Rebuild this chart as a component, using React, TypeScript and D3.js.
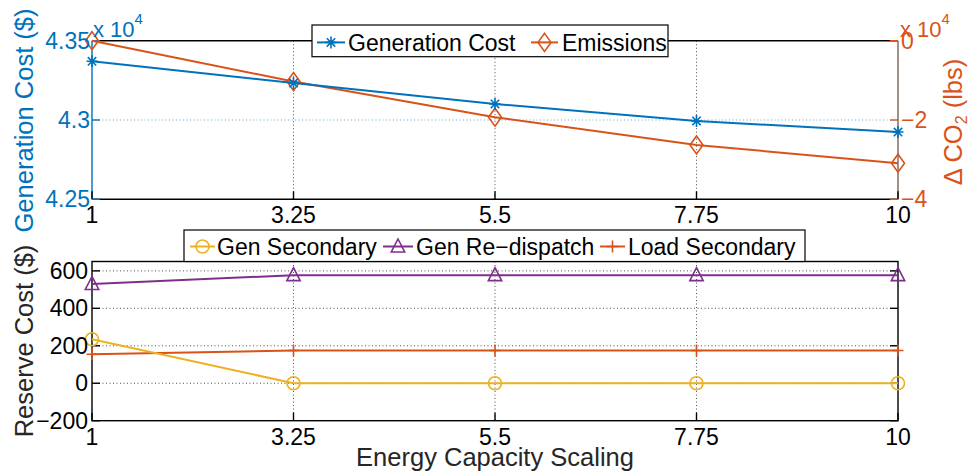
import React from "react";
import * as d3 from "d3";

// Energy capacity scaling factors (shared x values)
const scaling = [1, 3.25, 5.5, 7.75, 10];
const xTickValues = [1, 3.25, 5.5, 7.75, 10];
const xTickLabels = ["1", "3.25", "5.5", "7.75", "10"];

// Upper panel: generation cost (x 10^4 $) and change in CO2 (x 10^4 lbs)
const generationCost = [4.337, 4.3233, 4.3101, 4.2994, 4.2924];
const emissions = [0, -1.03, -1.93, -2.63, -3.09];
const costTicks = [4.25, 4.3, 4.35];
const costTickLabels = ["4.25", "4.3", "4.35"];
const co2Ticks = [-4, -2, 0];
const co2TickLabels = ["\u22124", "\u22122", "0"];

// Lower panel: reserve costs ($)
const genSecondary = [235, 0, 0, 0, 0];
const genRedispatch = [530, 577, 577, 577, 577];
const loadSecondary = [155, 175, 175, 175, 175];
const reserveTicks = [-200, 0, 200, 400, 600];
const reserveTickLabels = ["\u2212200", "0", "200", "400", "600"];

const BLUE = "#0072BD";
const ORANGE = "#D95319";
const YELLOW = "#EDB120";
const PURPLE = "#7E2F8E";
const INK = "#262626";
const FONT = "'Liberation Sans', Arial, Helvetica, sans-serif";

const W = 978;
const H = 476;
const left = 92;
const right = 898;
const topA = 40.7;
const botA = 199.3;
const topB = 261.5;
const botB = 420.7;

const x = d3.scaleLinear().domain([1, 10]).range([left, right]);
const yCost = d3.scaleLinear().domain([4.25, 4.35]).range([botA, topA]);
const yCo2 = d3.scaleLinear().domain([-4, 0]).range([botA, topA]);
const yRes = d3.scaleLinear().domain([-200, 650]).range([botB, topB]);

type MarkerKind = "star" | "diamond" | "circle" | "triangle" | "plus";

function Marker({ kind, cx, cy, color }: { kind: MarkerKind; cx: number; cy: number; color: string }) {
  const common = { fill: "none", stroke: color, strokeWidth: 1.6 };
  if (kind === "circle") return <circle cx={cx} cy={cy} r={6.5} {...common} />;
  if (kind === "diamond")
    return <path d={`M${cx},${cy - 9}L${cx + 6.5},${cy}L${cx},${cy + 9}L${cx - 6.5},${cy}Z`} {...common} />;
  if (kind === "triangle")
    return <path d={`M${cx},${cy - 7.5}L${cx + 6.7},${cy + 5.5}L${cx - 6.7},${cy + 5.5}Z`} {...common} />;
  if (kind === "plus")
    return <path d={`M${cx - 5.5},${cy}H${cx + 5.5}M${cx},${cy - 6}V${cy + 6}`} {...common} />;
  const s = 5.5;
  const d = 4.2;
  return (
    <path
      d={`M${cx - s},${cy}H${cx + s}M${cx},${cy - s - 0.5}V${cy + s + 0.5}M${cx - d},${cy - d}L${cx + d},${cy + d}M${cx - d},${cy + d}L${cx + d},${cy - d}`}
      {...common}
    />
  );
}

function Series({
  values,
  y,
  color,
  kind,
}: {
  values: number[];
  y: d3.ScaleLinear<number, number>;
  color: string;
  kind: MarkerKind;
}) {
  const pts = values.map((v, i) => [x(scaling[i]), y(v)] as [number, number]);
  const line = d3.line()(pts) || "";
  return (
    <g>
      <path d={line} fill="none" stroke={color} strokeWidth={2} />
      {pts.map((p, i) => (
        <Marker key={i} kind={kind} cx={p[0]} cy={p[1]} color={color} />
      ))}
    </g>
  );
}

function LegendItem({
  x0,
  x1,
  tx,
  y,
  label,
  color,
  kind,
}: {
  x0: number;
  x1: number;
  tx: number;
  y: number;
  label: string;
  color: string;
  kind: MarkerKind;
}) {
  return (
    <g>
      <line x1={x0} x2={x1} y1={y} y2={y} stroke={color} strokeWidth={2} />
      <Marker kind={kind} cx={(x0 + x1) / 2} cy={y} color={color} />
      <text x={tx} y={y + 8.3} fontSize={23} fill="#000">
        {label}
      </text>
    </g>
  );
}

export default function App() {
  const innerX = xTickValues.filter((v) => v !== 1 && v !== 10);
  return (
    <svg
      width={W}
      height={H}
      viewBox={`0 0 ${W} ${H}`}
      style={{ position: "absolute", left: 0, top: 0, background: "#fff" }}
      fontFamily={FONT}
    >
      <rect width={W} height={H} fill="#fff" />

      {/* ---------- upper panel ---------- */}
      {innerX.map((v) => (
        <line key={v} x1={x(v)} x2={x(v)} y1={topA} y2={botA} stroke={INK} strokeWidth={1} strokeDasharray="1,2.5" opacity={0.8} />
      ))}
      {costTicks
        .filter((v) => v !== 4.25 && v !== 4.35)
        .map((v) => (
          <line key={v} x1={left} x2={right} y1={yCost(v)} y2={yCost(v)} stroke={BLUE} strokeWidth={1} strokeDasharray="1,2.5" opacity={0.6} />
        ))}
      <line x1={left} x2={right} y1={topA} y2={topA} stroke="#000" strokeWidth={1.4} />
      <line x1={left} x2={right} y1={botA} y2={botA} stroke="#000" strokeWidth={1.4} />
      <line x1={left} x2={left} y1={topA} y2={botA} stroke={BLUE} strokeWidth={1.4} />
      <line x1={right} x2={right} y1={topA} y2={botA} stroke="#7a6156" strokeWidth={1.4} />
      {xTickValues.map((v) => (
        <line key={v} x1={x(v)} x2={x(v)} y1={botA} y2={botA - 8} stroke="#000" strokeWidth={1.4} />
      ))}
      {costTicks.map((v) => (
        <line key={v} x1={left} x2={left + 8} y1={yCost(v)} y2={yCost(v)} stroke={BLUE} strokeWidth={1.4} />
      ))}
      {co2Ticks.map((v) => (
        <line key={v} x1={right} x2={right - 8} y1={yCo2(v)} y2={yCo2(v)} stroke={ORANGE} strokeWidth={1.4} />
      ))}

      <Series values={emissions} y={yCo2} color={ORANGE} kind="diamond" />
      <Series values={generationCost} y={yCost} color={BLUE} kind="star" />

      {costTicks.map((v, i) => (
        <text key={v} x={left - 2} y={yCost(v)} dy="0.35em" textAnchor="end" fontSize={23} fill={BLUE}>
          {costTickLabels[i]}
        </text>
      ))}
      {co2Ticks.map((v, i) => (
        <text key={v} x={right + 3} y={yCo2(v)} dy="0.35em" textAnchor="start" fontSize={23} fill={ORANGE}>
          {co2TickLabels[i]}
        </text>
      ))}
      {xTickValues.map((v, i) => (
        <text key={v} x={x(v)} y={botA + 24} textAnchor="middle" fontSize={23} fill="#000">
          {xTickLabels[i]}
        </text>
      ))}

      {/* exponent multipliers */}
      <text x={left + 1} y={37} fontSize={22} fill={BLUE}>
        x 10<tspan dy={-13} fontSize={15}>4</tspan>
      </text>
      <text x={right + 2} y={37} fontSize={22} fill={ORANGE}>
        x 10<tspan dy={-13} fontSize={15}>4</tspan>
      </text>

      {/* axis titles */}
      <text transform={`translate(33,120.5) rotate(-90)`} textAnchor="middle" fontSize={25.5} fill={BLUE}>
        Generation Cost ($)
      </text>
      <text transform={`translate(962,122) rotate(-90)`} textAnchor="middle" fontSize={25.5} fill={ORANGE}>
        {"\u0394 CO"}
        <tspan dy={5} fontSize={16}>2</tspan>
        <tspan dy={-5}>{" (lbs)"}</tspan>
      </text>

      {/* upper legend */}
      <rect x={312} y={25} width={356} height={31.7} fill="#fff" stroke="#000" strokeWidth={1.2} />
      <LegendItem x0={317} x1={345} tx={348} y={42.4} label="Generation Cost" color={BLUE} kind="star" />
      <LegendItem x0={531} x1={558} tx={562} y={42.4} label="Emissions" color={ORANGE} kind="diamond" />

      {/* ---------- lower panel ---------- */}
      {innerX.map((v) => (
        <line key={v} x1={x(v)} x2={x(v)} y1={topB} y2={botB} stroke={INK} strokeWidth={1} strokeDasharray="1,2.5" opacity={0.8} />
      ))}
      {reserveTicks
        .filter((v) => v !== -200)
        .map((v) => (
          <line key={v} x1={left} x2={right} y1={yRes(v)} y2={yRes(v)} stroke={INK} strokeWidth={1} strokeDasharray="1,2.5" opacity={0.8} />
        ))}
      <rect x={left} y={topB} width={right - left} height={botB - topB} fill="none" stroke="#000" strokeWidth={1.4} />
      {xTickValues.map((v) => (
        <line key={v} x1={x(v)} x2={x(v)} y1={botB} y2={botB - 8} stroke="#000" strokeWidth={1.4} />
      ))}
      {reserveTicks.map((v) => (
        <g key={v}>
          <line x1={left} x2={left + 8} y1={yRes(v)} y2={yRes(v)} stroke="#000" strokeWidth={1.4} />
          <line x1={right} x2={right - 8} y1={yRes(v)} y2={yRes(v)} stroke="#000" strokeWidth={1.4} />
        </g>
      ))}

      <Series values={genRedispatch} y={yRes} color={PURPLE} kind="triangle" />
      <Series values={loadSecondary} y={yRes} color={ORANGE} kind="plus" />
      <Series values={genSecondary} y={yRes} color={YELLOW} kind="circle" />

      {reserveTicks.map((v, i) => (
        <text key={v} x={left - 4} y={yRes(v)} dy="0.35em" textAnchor="end" fontSize={23} fill="#000">
          {reserveTickLabels[i]}
        </text>
      ))}
      {xTickValues.map((v, i) => (
        <text key={v} x={x(v)} y={botB + 24} textAnchor="middle" fontSize={23} fill="#000">
          {xTickLabels[i]}
        </text>
      ))}

      <text transform={`translate(33,341) rotate(-90)`} textAnchor="middle" fontSize={25.5} fill={INK}>
        Reserve Cost ($)
      </text>
      <text x={(left + right) / 2} y={466} textAnchor="middle" fontSize={25.5} fill={INK}>
        Energy Capacity Scaling
      </text>

      {/* lower legend */}
      <rect x={184} y={230} width={621} height={31.5} fill="#fff" stroke="#000" strokeWidth={1.2} />
      <LegendItem x0={190} x1={215} tx={217} y={246.5} label="Gen Secondary" color={YELLOW} kind="circle" />
      <LegendItem x0={383} x1={413} tx={416} y={246.5} label={"Gen Re\u2212dispatch"} color={PURPLE} kind="triangle" />
      <LegendItem x0={600} x1={625} tx={628} y={246.5} label="Load Secondary" color={ORANGE} kind="plus" />
    </svg>
  );
}
